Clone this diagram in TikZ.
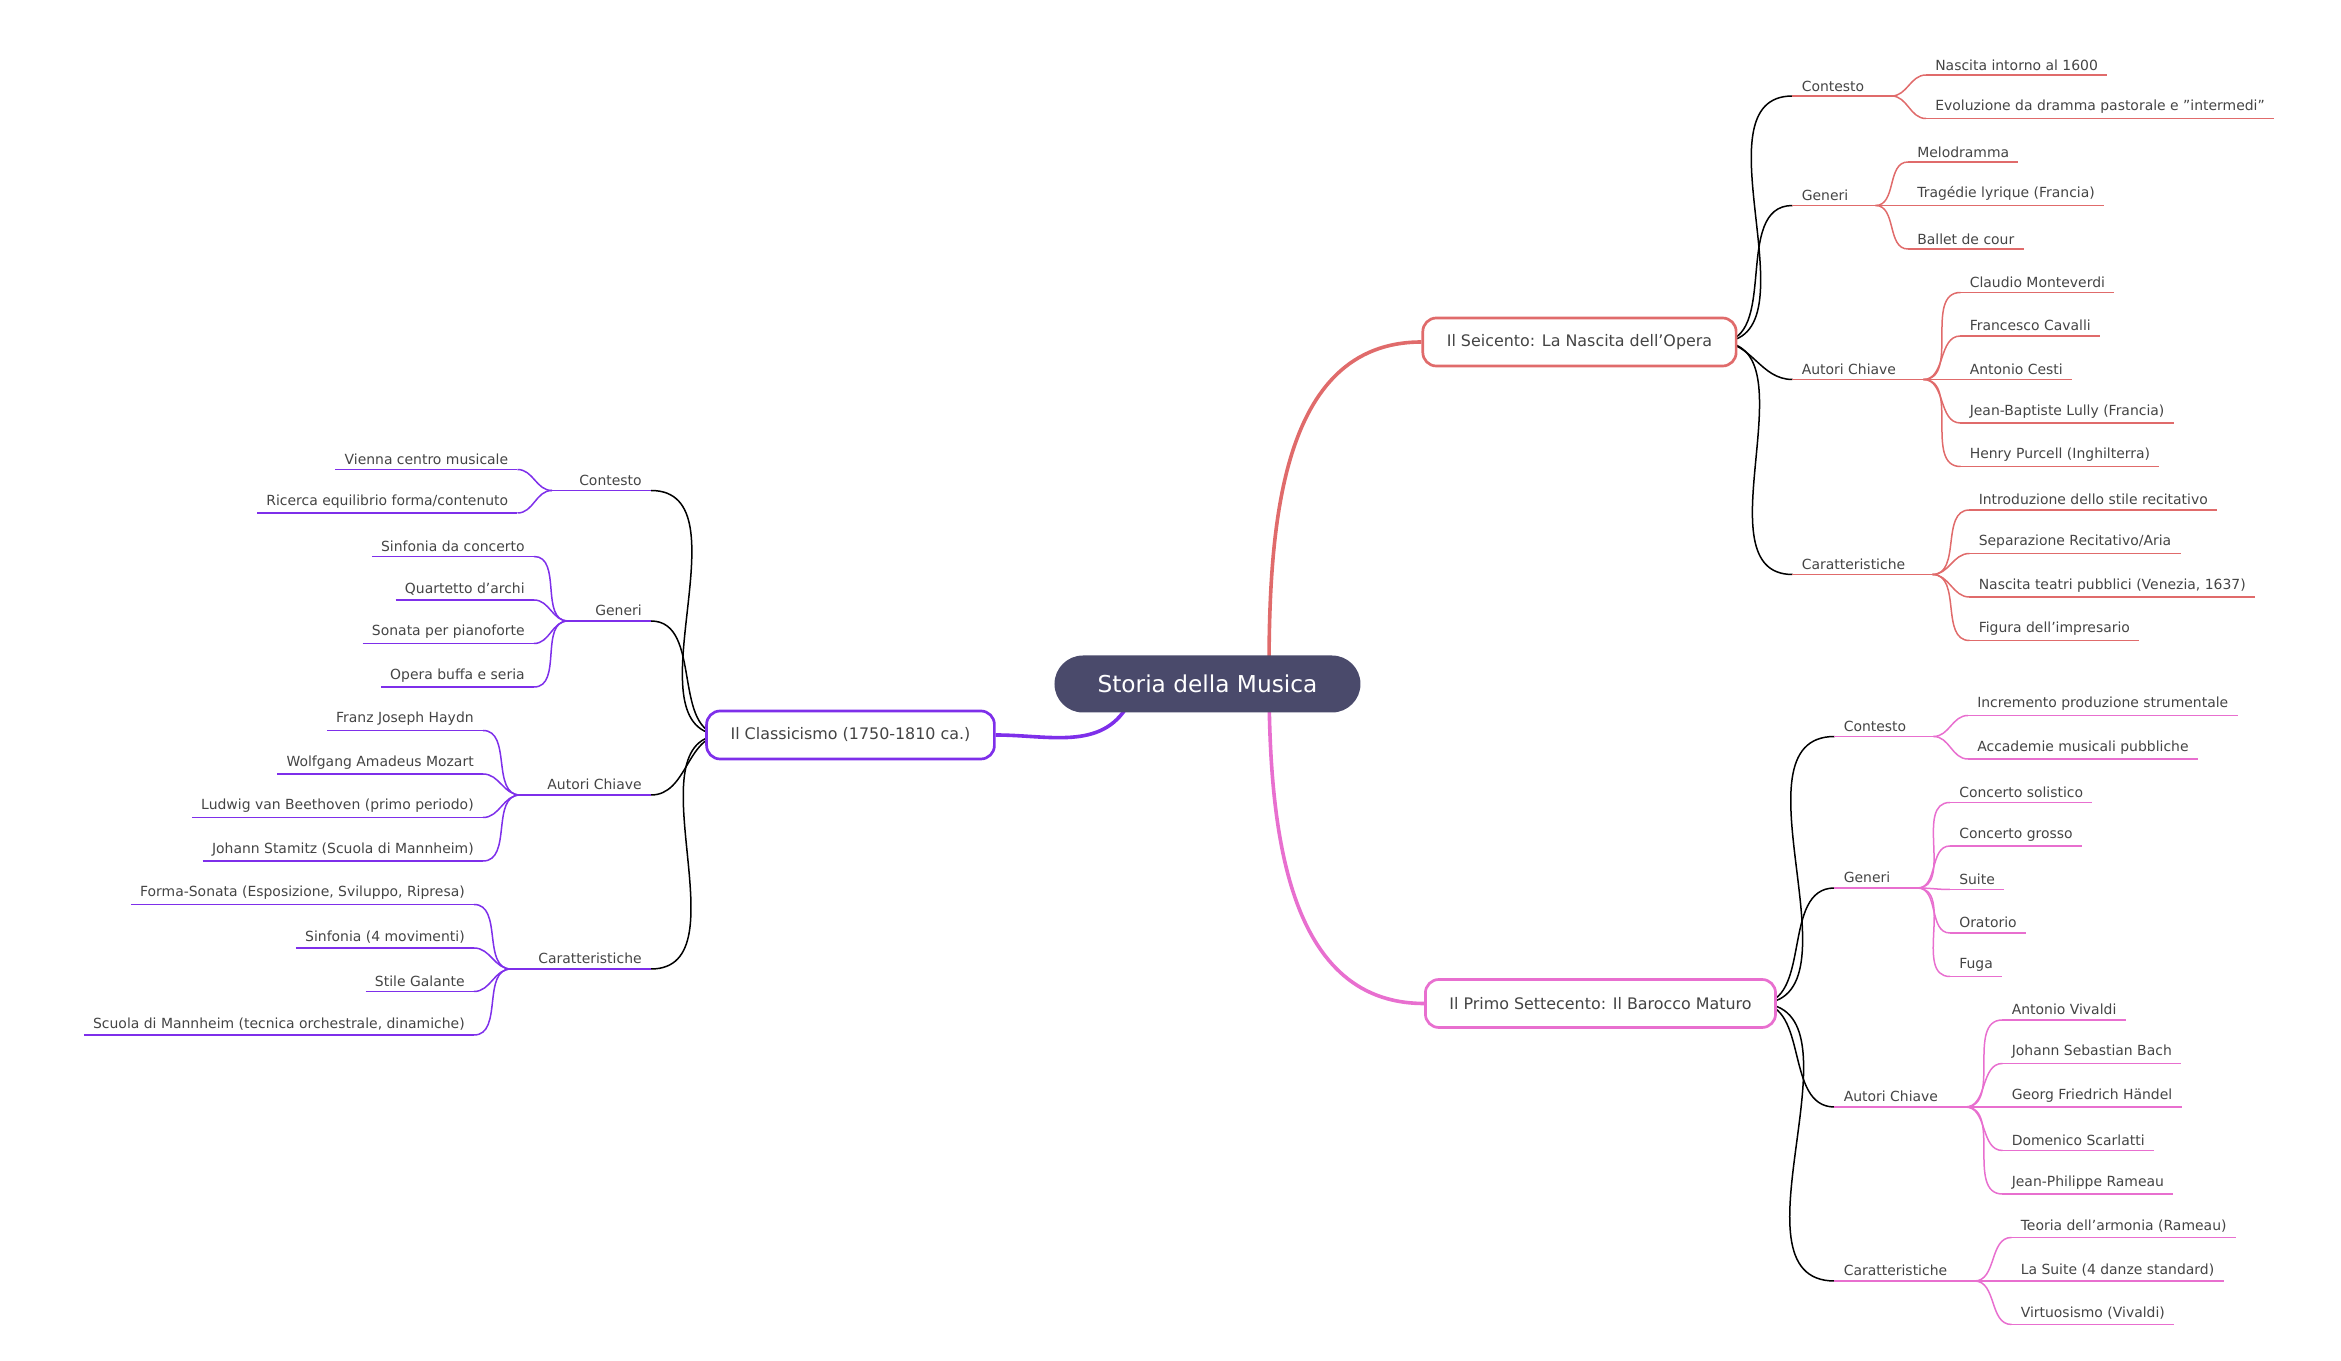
\documentclass[tikz,border=0pt]{standalone}
\usepackage{fontspec}
\setmainfont{DejaVu Sans}
\usetikzlibrary{backgrounds}
\definecolor{cA}{HTML}{E06B6B}
\definecolor{cB}{HTML}{E86FCF}
\definecolor{cC}{HTML}{7E2FEA}
\definecolor{rootc}{HTML}{4A4A6B}
\definecolor{txt}{HTML}{444444}
\tikzset{
 lf/.style={font=\fontsize{9.3}{11}\selectfont, text=txt, inner xsep=6pt, inner ysep=3pt},
 ul/.style={line width=1pt},
 main/.style={draw, line width=1.8pt, rounded corners=9pt, fill=white, minimum height=32pt, inner xsep=16pt, font=\fontsize{10.6}{12}\selectfont, text=txt},
 big/.style={line width=2.4pt}
}
% right leaf: name, parent, textstart x, underline y, text
\newcommand\rleaf[5]{\node[lf,anchor=south west,xshift=-6pt] (#1) at (#3,#4) {#5};
 \draw[ul] (#1.south west)--(#1.south east);
 \draw[ul] (#2.south east) to[out=0,in=180] (#1.south west);}
\newcommand\lleaf[5]{\node[lf,anchor=south east,xshift=6pt] (#1) at (#3,#4) {#5};
 \draw[ul] (#1.south west)--(#1.south east);
 \draw[ul] (#2.south west) to[out=180,in=0] (#1.south east);}
% sub nodes: name, main, x, y, text
\newcommand\rsub[5]{\node[lf,anchor=south west,xshift=-6pt] (#1) at (#3,#4) {#5};
 \draw[ul] (#1.south west)--([xshift=12pt]#1.south east);
 \coordinate (#1-e) at ([xshift=12pt]#1.south east);
 \begin{scope}[on background layer]\draw[ul] ([xshift=-12pt]#2.east) to[out=0,in=180] (#1.south west);\end{scope}}
\newcommand\lsub[5]{\node[lf,anchor=south east,xshift=6pt] (#1) at (#3,#4) {#5};
 \draw[ul] ([xshift=-12pt]#1.south west)--(#1.south east);
 \begin{scope}[on background layer]\draw[ul] ([xshift=12pt]#2.west) to[out=180,in=0] (#1.south east);\end{scope}}
\begin{document}
\begin{tikzpicture}[x=1pt,y=-1pt]
\useasboundingbox (0,0) rectangle (1560.7,907.3);
\node[fill=rootc, rounded corners=19pt, minimum width=204pt, minimum height=38pt, text=white, font=\fontsize{15.5}{18}\selectfont] (root) at (805,456) {Storia della Musica};
\node[main, draw=cA] (A) at (1053,228) {Il Seicento: La Nascita dell'Opera};
\node[main, draw=cB] (B) at (1067,669) {Il Primo Settecento: Il Barocco Maturo};
\node[main, draw=cC] (C) at (567,490) {Il Classicismo (1750-1810 ca.)};
\begin{scope}[on background layer]
\coordinate (r1) at (846,450);
\coordinate (r2) at (752,470);
\draw[big,cA] (r1) to[out=90,in=180] (A.west);
\draw[big,cB] (r1) to[out=-90,in=180] (B.west);
\draw[big,cC] (r2) to[out=-120,in=0] (C.east);
\end{scope}
\begin{scope}[draw=cA,color=cA]
\rsub{a1}{A}{1201}{64}{Contesto}
\rleaf{a11}{a1-e}{1290}{50}{Nascita intorno al 1600}
\rleaf{a12}{a1-e}{1290}{79}{Evoluzione da dramma pastorale e "intermedi"}
\rsub{a2}{A}{1201}{137}{Generi}
\rleaf{a21}{a2-e}{1278}{108}{Melodramma}
\rleaf{a22}{a2-e}{1278}{137}{Tragédie lyrique (Francia)}
\rleaf{a23}{a2-e}{1278}{166}{Ballet de cour}
\rsub{a3}{A}{1201}{253}{Autori Chiave}
\rleaf{a31}{a3-e}{1313}{195}{Claudio Monteverdi}
\rleaf{a32}{a3-e}{1313}{224}{Francesco Cavalli}
\rleaf{a33}{a3-e}{1313}{253}{Antonio Cesti}
\rleaf{a34}{a3-e}{1313}{282}{Jean-Baptiste Lully (Francia)}
\rleaf{a35}{a3-e}{1313}{311}{Henry Purcell (Inghilterra)}
\rsub{a4}{A}{1201}{383}{Caratteristiche}
\rleaf{a41}{a4-e}{1319}{340}{Introduzione dello stile recitativo}
\rleaf{a42}{a4-e}{1319}{369}{Separazione Recitativo/Aria}
\rleaf{a43}{a4-e}{1319}{398}{Nascita teatri pubblici (Venezia, 1637)}
\rleaf{a44}{a4-e}{1319}{427}{Figura dell'impresario}
\end{scope}
\begin{scope}[draw=cB,color=cB]
\rsub{b1}{B}{1229}{491}{Contesto}
\rleaf{b11}{b1-e}{1318}{477}{Incremento produzione strumentale}
\rleaf{b12}{b1-e}{1318}{506}{Accademie musicali pubbliche}
\rsub{b2}{B}{1229}{592}{Generi}
\rleaf{b21}{b2-e}{1306}{535}{Concerto solistico}
\rleaf{b22}{b2-e}{1306}{564}{Concerto grosso}
\rleaf{b23}{b2-e}{1306}{593}{Suite}
\rleaf{b24}{b2-e}{1306}{622}{Oratorio}
\rleaf{b25}{b2-e}{1306}{651}{Fuga}
\rsub{b3}{B}{1229}{738}{Autori Chiave}
\rleaf{b31}{b3-e}{1341}{680}{Antonio Vivaldi}
\rleaf{b32}{b3-e}{1341}{709}{Johann Sebastian Bach}
\rleaf{b33}{b3-e}{1341}{738}{Georg Friedrich Händel}
\rleaf{b34}{b3-e}{1341}{767}{Domenico Scarlatti}
\rleaf{b35}{b3-e}{1341}{796}{Jean-Philippe Rameau}
\rsub{b4}{B}{1229}{854}{Caratteristiche}
\rleaf{b41}{b4-e}{1347}{825}{Teoria dell'armonia (Rameau)}
\rleaf{b42}{b4-e}{1347}{854}{La Suite (4 danze standard)}
\rleaf{b43}{b4-e}{1347}{883}{Virtuosismo (Vivaldi)}
\end{scope}
\begin{scope}[draw=cC,color=cC]
\lsub{c1}{C}{428}{327}{Contesto}
\coordinate (c1-w) at ([xshift=-12pt]c1.south west);
\lleaf{c11}{c1-w}{339}{313}{Vienna centro musicale}
\lleaf{c12}{c1-w}{339}{342}{Ricerca equilibrio forma/contenuto}
\lsub{c2}{C}{428}{414}{Generi}
\coordinate (c2-w) at ([xshift=-12pt]c2.south west);
\lleaf{c21}{c2-w}{350}{371}{Sinfonia da concerto}
\lleaf{c22}{c2-w}{350}{400}{Quartetto d'archi}
\lleaf{c23}{c2-w}{350}{429}{Sonata per pianoforte}
\lleaf{c24}{c2-w}{350}{458}{Opera buffa e seria}
\lsub{c3}{C}{428}{530}{Autori Chiave}
\coordinate (c3-w) at ([xshift=-12pt]c3.south west);
\lleaf{c31}{c3-w}{316}{487}{Franz Joseph Haydn}
\lleaf{c32}{c3-w}{316}{516}{Wolfgang Amadeus Mozart}
\lleaf{c33}{c3-w}{316}{545}{Ludwig van Beethoven (primo periodo)}
\lleaf{c34}{c3-w}{316}{574}{Johann Stamitz (Scuola di Mannheim)}
\lsub{c4}{C}{428}{646}{Caratteristiche}
\coordinate (c4-w) at ([xshift=-12pt]c4.south west);
\lleaf{c41}{c4-w}{310}{603}{Forma-Sonata (Esposizione, Sviluppo, Ripresa)}
\lleaf{c42}{c4-w}{310}{632}{Sinfonia (4 movimenti)}
\lleaf{c43}{c4-w}{310}{661}{Stile Galante}
\lleaf{c44}{c4-w}{310}{690}{Scuola di Mannheim (tecnica orchestrale, dinamiche)}
\end{scope}
\end{tikzpicture}
\end{document}
